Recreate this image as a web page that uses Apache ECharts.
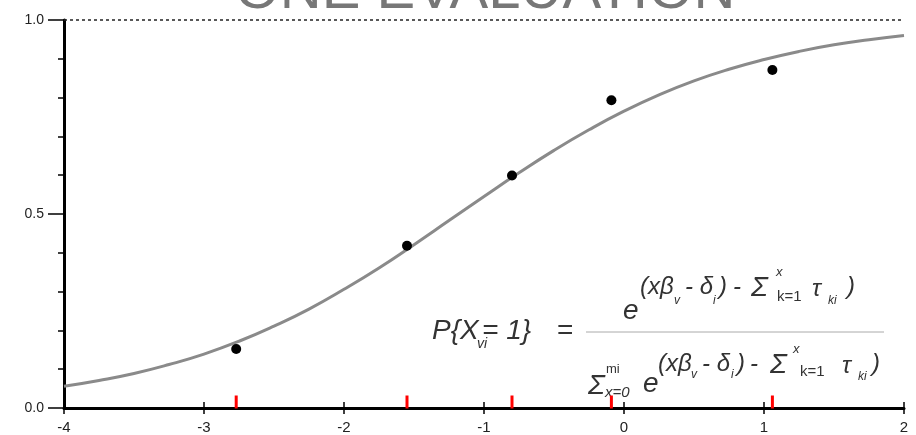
<!DOCTYPE html>
<html>
<head>
<meta charset="utf-8">
<title>One Evaluation</title>
<script src="https://cdn.jsdelivr.net/npm/echarts@6/dist/echarts.min.js"></script>
<style>
	html, body { margin: 0; padding: 0; background: #fff; }
	#chartId { width: 916px; height: 435px; }
</style>
</head>
<body>
<div id="chartId"></div>
<script>
// x ticks
var xTicks = [-4, -3, -2, -1, 0, 1, 2];
// y tick labels
var yTicks = [0, 0.5, 1];
// observed points
var pointX = [-2.77, -1.55, -0.80, -0.09, 1.06];
var pointY = [0.152, 0.418, 0.599, 0.793, 0.871];
// red marks on the axis
var redTickX = [-2.77, -1.55, -0.80, -0.09, 1.06];
// fitted curve
var curveX = [-4, -3.75, -3.5, -3.25, -3, -2.75, -2.5, -2.25, -2, -1.75, -1.5, -1.25, -1, -0.75, -0.5, -0.25, 0, 0.25, 0.5, 0.75, 1, 1.25, 1.5, 1.75, 2];
var curveY = [0.056, 0.071, 0.089, 0.112, 0.139, 0.172, 0.211, 0.255, 0.306, 0.361, 0.421, 0.483, 0.545, 0.606, 0.664, 0.717, 0.765, 0.807, 0.843, 0.873, 0.898, 0.919, 0.936, 0.949, 0.960];

function zipData(xs, ys) {
	var result = [];
	for(var i = 0; i < xs.length; i++) {
		result.push([xs[i], ys[i]]);
	}
	return result;
}

// formula pieces: text, x, y, size, italic
var formulaParts = [
	["P{X", 432, 331, 28, true],
	["vi", 477, 344, 14, true],
	["= 1}", 482, 331, 28, true],
	["=", 557, 331, 28, false],
	// numerator
	["e", 623, 311, 28, true],
	["(x\u03b2", 640, 287, 24, true],
	["v", 674, 301, 12, true],
	["- \u03b4", 685, 287, 24, true],
	["i", 713, 301, 12, true],
	[")", 719, 287, 24, true],
	["-", 733, 287, 24, true],
	["\u03a3", 751, 288, 28, true],
	["x", 776, 272, 13, true],
	["k=1", 777, 297, 15, false],
	["\u03c4", 812, 289, 24, true],
	["ki", 828, 301, 12, true],
	[")", 847, 287, 24, true],
	// denominator
	["\u03a3", 588, 386, 28, true],
	["mi", 606, 369, 13, false],
	["x=0", 605, 393, 15, true],
	["e", 643, 384, 28, true],
	["(x\u03b2", 658, 364, 24, true],
	["v", 691, 375, 12, true],
	["- \u03b4", 702, 364, 24, true],
	["i", 731, 375, 12, true],
	[")", 737, 364, 24, true],
	["-", 750, 364, 24, true],
	["\u03a3", 770, 365, 28, true],
	["x", 793, 349, 13, true],
	["k=1", 800, 372, 15, false],
	["\u03c4", 842, 366, 24, true],
	["ki", 858, 377, 12, true],
	[")", 872, 364, 24, true]
];

var graphicList = [{
	type: 'text',
	x: 485,
	y: -8,
	style: {
		text: 'ONE EVALUATION',
		fill: '#777',
		font: 'normal 58px "Liberation Sans", Arial, sans-serif',
		align: 'center',
		verticalAlign: 'middle'
	}
}, {
	type: 'line',
	shape: { x1: 586, y1: 332, x2: 884, y2: 332 },
	style: { stroke: '#aaa', lineWidth: 1 }
}];
for(var i = 0; i < formulaParts.length; i++) {
	var p = formulaParts[i];
	graphicList.push({
		type: 'text',
		x: p[1],
		y: p[2],
		style: {
			text: p[0],
			fill: '#333',
			font: (p[4] ? 'italic ' : 'normal ') + p[3] + 'px "Liberation Sans", Arial, sans-serif',
			align: 'left',
			verticalAlign: 'middle'
		}
	});
}

var myChart = echarts.init(document.getElementById("chartId"));
var option = {
	animation: false,
	grid: {
		left: 64,
		right: 12,
		top: 20,
		bottom: 26
	},
	xAxis: [{
		type: 'value',
		min: xTicks[0],
		max: xTicks[xTicks.length - 1],
		interval: 1,
		position: 'bottom',
		axisLine: { show: true, onZero: false, lineStyle: { color: '#000', width: 3 } },
		axisTick: { show: true, length: 6, lineStyle: { color: '#000', width: 1.5 } },
		axisLabel: {
			show: true,
			margin: 12,
			color: '#222',
			fontSize: 15,
			fontFamily: 'Liberation Sans'
		},
		splitLine: { show: false }
	}, {
		// the inner half of the x ticks
		type: 'value',
		min: xTicks[0],
		max: xTicks[xTicks.length - 1],
		interval: 1,
		position: 'bottom',
		offset: 0,
		axisLine: { show: false, onZero: false },
		axisTick: { show: true, inside: true, length: 6, lineStyle: { color: '#000', width: 1.5 } },
		axisLabel: { show: false },
		splitLine: { show: false }
	}],
	yAxis: {
		type: 'value',
		min: yTicks[0],
		max: yTicks[yTicks.length - 1],
		interval: 0.5,
		axisLine: { show: true, onZero: false, lineStyle: { color: '#000', width: 3 } },
		axisTick: { show: true, length: 16, lineStyle: { color: '#000', width: 1.5 } },
		minorTick: { show: true, splitNumber: 5, length: 6, lineStyle: { color: '#000', width: 1.5 } },
		axisLabel: {
			show: true,
			margin: 20,
			color: '#222',
			fontSize: 14,
			fontFamily: 'Liberation Sans',
			formatter: function(v) {
				return v.toFixed(1);
			}
		},
		splitLine: { show: false }
	},
	graphic: graphicList,
	series: [{
		name: 'curve',
		type: 'line',
		smooth: true,
		showSymbol: false,
		lineStyle: { color: '#8a8a8a', width: 3 },
		data: zipData(curveX, curveY),
		z: 2,
		markLine: {
			silent: true,
			symbol: ['none', 'none'],
			label: { show: false },
			lineStyle: { color: '#222', width: 1.5, type: [3, 3] },
			data: [{ yAxis: yTicks[yTicks.length - 1] }]
		}
	}, {
		name: 'points',
		type: 'scatter',
		symbol: 'circle',
		symbolSize: 10,
		itemStyle: { color: '#000', opacity: 1 },
		data: zipData(pointX, pointY),
		z: 3
	}, {
		name: 'red ticks',
		type: 'scatter',
		symbol: 'rect',
		symbolSize: [3, 13],
		symbolOffset: [0, -6],
		itemStyle: { color: '#ff0000', opacity: 1 },
		data: redTickX.map(function(x) { return [x, 0]; }),
		z: 4
	}]
};
myChart.setOption(option);
</script>
</body>
</html>
